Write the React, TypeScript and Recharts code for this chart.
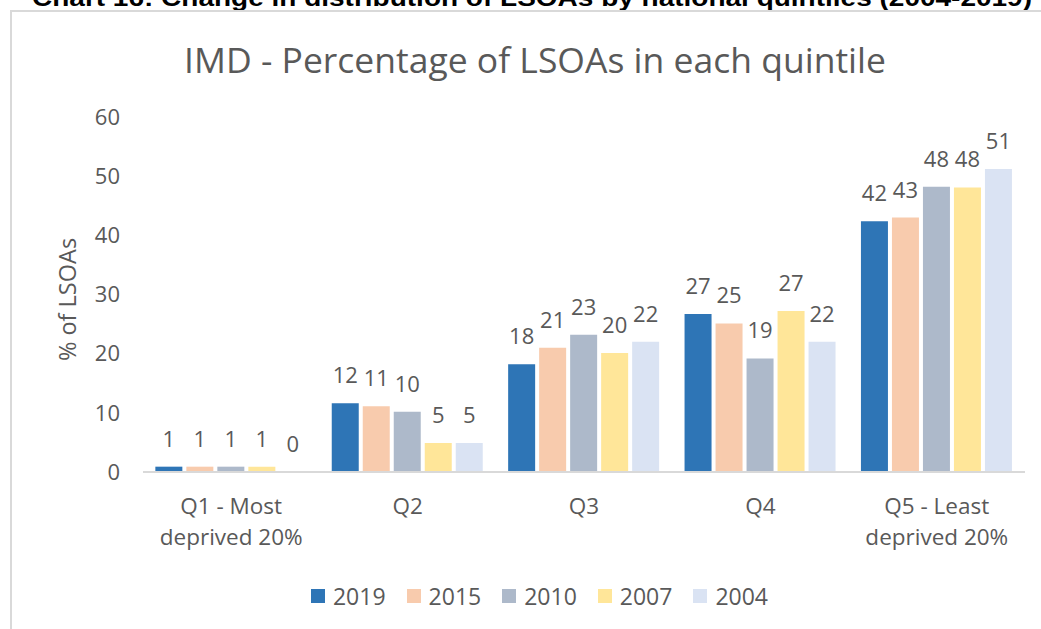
import { Bar, BarChart, LabelList, Legend, XAxis, YAxis } from "recharts";

const categories = ["Q1 - Most\ndeprived 20%", "Q2", "Q3", "Q4", "Q5 - Least\ndeprived 20%"];
const years = ["2019", "2015", "2010", "2007", "2004"];
const values2019 = [0.9, 11.6, 18.2, 26.7, 42.4];
const values2015 = [0.9, 11.1, 21.0, 25.1, 43.0];
const values2010 = [0.9, 10.2, 23.2, 19.2, 48.2];
const values2007 = [0.9, 4.9, 20.1, 27.2, 48.1];
const values2004 = [0.0, 4.9, 22.0, 22.0, 51.2];
const yTicks = [0, 10, 20, 30, 40, 50, 60];

const COLORS = ["#2E75B6", "#F8CBAD", "#ADB9CA", "#FFE699", "#DAE3F3"];
const TEXT = "#595959";
const FONT = "'Open Sans', sans-serif";

const seriesValues = [values2019, values2015, values2010, values2007, values2004];
const data = categories.map((name, i) => {
	const row: Record<string, string | number> = { name };
	years.forEach((y, k) => {
		row[y] = seriesValues[k][i];
	});
	return row;
});

function CategoryTick({ x, y, payload }: any) {
	const lines = String(payload.value).split("\n");
	return (
		<text x={x} y={y + 34} textAnchor="middle" fill={TEXT} fontSize={22.5} fontFamily={FONT}>
			{lines.map((line, i) => (
				<tspan key={i} x={x} dy={i === 0 ? 0 : 31}>
					{line}
				</tspan>
			))}
		</text>
	);
}

function LegendContent() {
	return (
		<div style={{ display: "flex", justifyContent: "center", paddingLeft: 75, height: 30, alignItems: "center" }}>
			{years.map((y, i) => (
				<div key={y} style={{ display: "flex", alignItems: "center", marginRight: 21 }}>
					<span style={{ width: 14, height: 14, background: COLORS[i], marginRight: 8, display: "inline-block" }} />
					<span style={{ fontFamily: FONT, fontSize: 23, color: TEXT }}>{y}</span>
				</div>
			))}
		</div>
	);
}

function YLabel({ viewBox }: any) {
	const cy = viewBox.y + viewBox.height / 2 + 5;
	return (
		<text x={76} y={cy} transform={`rotate(-90 76 ${cy})`} textAnchor="middle" fill={TEXT} fontSize={23.5} fontFamily={FONT}>
			% of LSOAs
		</text>
	);
}

// zero-value bars still need a rect so their "0" label gets drawn
const keepZero = (v: any) => (Number(v) === 0 ? 0.01 : 0);

export default function App() {
	return (
		<div style={{ position: "absolute", left: 0, top: 0, width: 1041, height: 629, overflow: "hidden", background: "#fff" }}>
			<svg width={1041} height={20} style={{ position: "absolute", left: 0, top: 0 }}>
				<text x={32} y={6} fontFamily="'Liberation Sans', Arial, sans-serif" fontWeight="bold" fontSize={23} textLength={1000} lengthAdjust="spacingAndGlyphs" fill="#000">
					Chart 16: Change in distribution of LSOAs by national quintiles (2004-2019)
				</text>
			</svg>
			<div style={{ position: "absolute", left: 10, top: 10, width: 1100, height: 700, borderLeft: "2px solid #D9D9D9", borderTop: "2px solid #D9D9D9" }} />
			<div style={{ position: "absolute", left: 0, top: 35, width: 1070, textAlign: "center", fontFamily: FONT, fontSize: 35.5, color: TEXT, lineHeight: "48px", whiteSpace: "nowrap" }}>
				IMD - Percentage of LSOAs in each quintile
			</div>
			<div style={{ position: "absolute", left: 0, top: 0 }}>
				<BarChart width={1041} height={629} data={data} margin={{ top: 117, right: 16, left: 0, bottom: 18 }} barGap={4} barCategoryGap="7%">
					<XAxis dataKey="name" tickLine={false} axisLine={{ stroke: "#D9D9D9", strokeWidth: 2 }} tick={<CategoryTick />} height={109} interval={0} />
					<YAxis domain={[0, 60]} ticks={yTicks} axisLine={false} tickLine={false} tickSize={0} tickMargin={23} width={143} tick={{ fill: TEXT, fontSize: 22, fontFamily: FONT }} label={<YLabel />} />
					<Legend verticalAlign="bottom" content={<LegendContent />} />
					{years.map((y, i) => (
						<Bar key={y} dataKey={y} fill={COLORS[i]} minPointSize={keepZero} isAnimationActive={false}>
							<LabelList dataKey={y} position="top" offset={20} fill={TEXT} fontSize={22} fontFamily={FONT} formatter={(v: any) => String(Math.round(Number(v)))} />
						</Bar>
					))}
				</BarChart>
			</div>
		</div>
	);
}
